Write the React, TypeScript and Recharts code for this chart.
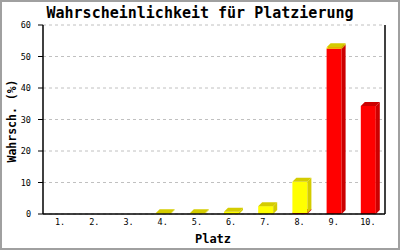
import { BarChart, Bar, XAxis, YAxis, CartesianGrid } from "recharts";

const places = ["1.", "2.", "3.", "4.", "5.", "6.", "7.", "8.", "9.", "10."];
const redValues = [0, 0, 0, 0, 0, 0, 0, 0.3, 52.5, 34.3];
const yellowValues = [0, 0, 0, 0.2, 0.2, 0.7, 2.5, 9.9, 0.4, 0];
const yTicks = [0, 10, 20, 30, 40, 50, 60];

const data = places.map((p, i) => ({ place: p, red: redValues[i], yellow: yellowValues[i] }));

const FONT = "'DejaVu Sans Mono', monospace";
const DEPTH = 4;

// front face + darker side and top to fake the 3d look
function Bar3D(props: any) {
  const { x, y, width, height, fill, dark } = props;
  if (!height || height <= 0) return null;
  const d = DEPTH;
  return (
    <g>
      <rect x={x} y={y} width={width} height={height} fill={fill} />
      <polygon
        points={`${x + width},${y} ${x + width + d},${y - d} ${x + width + d},${y + height - d} ${x + width},${y + height}`}
        fill={dark}
      />
      <polygon
        points={`${x},${y} ${x + d},${y - d} ${x + width + d},${y - d} ${x + width},${y}`}
        fill={dark}
      />
    </g>
  );
}

export default function App() {
  return (
    <div style={{ position: "relative", width: 400, height: 250, background: "#fff" }}>
      <style>{`body{margin:0}`}</style>
      <div
        style={{
          position: "absolute",
          left: 200,
          top: 13,
          transform: "translate(-50%, -50%)",
          fontFamily: FONT,
          fontWeight: "bold",
          fontSize: 15,
          whiteSpace: "nowrap",
          color: "#000",
        }}
      >
        Wahrscheinlichkeit für Platzierung
      </div>
      <div
        style={{
          position: "absolute",
          left: 12,
          top: 121,
          transform: "translate(-50%, -50%) rotate(-90deg)",
          fontFamily: FONT,
          fontWeight: "bold",
          fontSize: 11.5,
          whiteSpace: "nowrap",
        }}
      >
        Wahrsch. (%)
      </div>
      <div
        style={{
          position: "absolute",
          left: 213,
          top: 239,
          transform: "translate(-50%, -50%)",
          fontFamily: FONT,
          fontWeight: "bold",
          fontSize: 12,
        }}
      >
        Platz
      </div>
      <BarChart
        width={400}
        height={250}
        data={data}
        margin={{ top: 25, right: 0, left: 0, bottom: 0 }}
        barCategoryGap={0}
      >
        <CartesianGrid horizontal vertical={false} stroke="#c0c0c0" strokeDasharray="3 3" />
        <XAxis
          dataKey="place"
          height={36}
          tickLine={false}
          tickSize={0}
          tickMargin={5}
          axisLine={{ stroke: "#000", strokeWidth: 1.5 }}
          tick={{ fontSize: 8.5, fontFamily: FONT, fill: "#000" }}
          interval={0}
        />
        <YAxis
          width={43}
          domain={[0, 60]}
          ticks={yTicks}
          tickSize={5}
          tickMargin={7}
          tickLine={{ stroke: "#000" }}
          axisLine={{ stroke: "#000", strokeWidth: 1.5 }}
          tick={{ fontSize: 8.5, fontFamily: FONT, fill: "#000" }}
          allowDataOverflow
        />
        <YAxis
          yAxisId="right"
          orientation="right"
          width={15}
          tick={false}
          tickLine={false}
          axisLine={{ stroke: "#000", strokeWidth: 1.5 }}
        />
        <Bar
          dataKey="red"
          stackId="a"
          barSize={15}
          fill="#ff0000"
          shape={(p: any) => <Bar3D {...p} fill="#ff0000" dark="#cc0000" />}
          isAnimationActive={false}
        />
        <Bar
          dataKey="yellow"
          stackId="a"
          barSize={15}
          fill="#ffff00"
          shape={(p: any) => <Bar3D {...p} fill="#ffff00" dark="#d4cc00" />}
          isAnimationActive={false}
        />
      </BarChart>
      {/* grey picture frame */}
      <div
        style={{
          position: "absolute",
          left: 0,
          top: 0,
          width: 400,
          height: 250,
          boxSizing: "border-box",
          border: "2px solid #a0a0a0",
          pointerEvents: "none",
        }}
      />
    </div>
  );
}
